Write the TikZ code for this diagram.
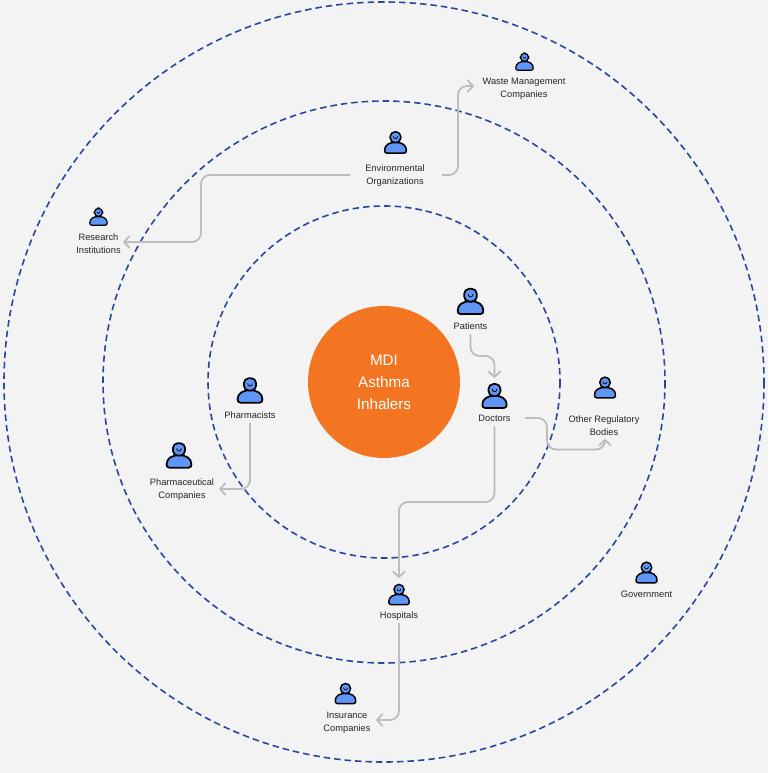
\documentclass[tikz,border=0pt]{standalone}
\usepackage{fontspec}
\setmainfont{Liberation Sans}
\usetikzlibrary{arrows.meta,calc}
\definecolor{bgc}{HTML}{F3F3F3}
\definecolor{ringc}{HTML}{2A479F}
\definecolor{orangec}{HTML}{F47521}
\definecolor{iconc}{HTML}{5F96F6}
\definecolor{linkc}{HTML}{BDBDBD}
\definecolor{textc}{HTML}{262626}
\newcommand{\plw}{1.9}
\newcommand{\placeperson}[3]{%
  \pgfmathsetmacro{\plw}{max(1.2,1.8*#1)}%
  \pic[scale=#1] at (#2,#3) {person};}
\tikzset{
  ring/.style={draw=ringc,line width=1.6pt,dash pattern=on 6.5pt off 4pt},
  lab/.style={font=\fontsize{9.3}{13}\selectfont,text=textc,align=center,inner sep=0pt},
  link/.style={draw=linkc,line width=1.8pt,rounded corners=9pt,-{Straight Barb[length=5.5pt,width=11.5pt,line width=1.8pt,round]}},
  hub/.style={circle,fill=orangec,minimum size=152pt,inner sep=0pt,text=white,align=center,font=\fontsize{15.2}{22}\selectfont},
  person/.pic={
    \begin{scope}[line width=\plw pt,draw=black,fill=iconc,line join=round]
      \filldraw (-10,12) -- (10,12) .. controls (12.2,12) and (12.8,10.5) .. (12.8,8.5) .. controls (12.8,2.5) and (7.5,-0.8) .. (0,-0.8) .. controls (-7.5,-0.8) and (-12.8,2.5) .. (-12.8,8.5) .. controls (-12.8,10.5) and (-12.2,12) .. (-10,12) -- cycle;
      \filldraw[rounded corners=5] (-6.3,-13.2) rectangle (6.3,-0.4);
      \draw[line width=0.45*\plw pt,line cap=round] (-2.4,-7.6) .. controls (-2.3,-4.2) and (2.3,-4.2) .. (2.4,-7.6);
    \end{scope}
  }
}
\begin{document}
\begin{tikzpicture}[x=1pt,y=-1pt]
\useasboundingbox[fill=bgc] (0,0) rectangle (768,773);
\coordinate (ctr) at (384,382);
\draw[ring] (ctr) circle (380);
\draw[ring] (ctr) circle (281);
\draw[ring] (ctr) circle (176);
\node[hub] (hubn) at (ctr) {MDI\\Asthma\\Inhalers};

\placeperson{1}{470.5}{302}
\placeperson{.95}{494.5}{396.5}
\placeperson{.82}{605}{388}
\placeperson{.85}{395.5}{143}
\placeperson{.68}{524.5}{62}
\placeperson{.68}{98.5}{217}
\placeperson{.97}{250}{391}
\placeperson{.97}{179}{456}
\placeperson{.8}{399}{595}
\placeperson{.82}{646.5}{573}
\placeperson{.8}{345.5}{694}

\node[lab] (patients) at (470.5,326.5) {Patients};
\node[lab] (doctors) at (494.5,418.5) {Doctors};
\node[lab] (regul) at (604,426) {Other Regulatory\\Bodies};
\node[lab] (env) at (395,176) {Environmental\\Organizations};
\node[lab] (waste) at (524,88.5) {Waste Management\\Companies};
\node[lab] (research) at (98.5,244) {Research\\Institutions};
\node[lab] (pharmacists) at (250,415.5) {Pharmacists};
\node[lab] (pharma) at (182,490) {Pharmaceutical\\Companies};
\node[lab] (hospitals) at (399,616.5) {Hospitals};
\node[lab] (gov) at (646.5,594.5) {Government};
\node[lab] (insurance) at (347,723) {Insurance\\Companies};

\coordinate (patS) at (470.5,334);
\coordinate (docN) at (494.5,378);
\coordinate (docE) at (525,418);
\coordinate (regS) at (605,439);
\coordinate (docS) at (494.5,426);
\coordinate (hosN) at (399,578);
\coordinate (hosS) at (399,623);
\coordinate (insE) at (376,720);
\coordinate (phaS) at (250,423);
\coordinate (phmE) at (219,489);
\coordinate (envW) at (350,175);
\coordinate (resE) at (123,242);
\coordinate (envE) at (442,175);
\coordinate (wasW) at (474,86);

\draw[link] (patS) -- (470.5,356) -- (494.5,356) -- (docN);
\draw[link] (docE) -- (547,418) -- (547,449.5) -- (605,449.5) -- (regS);
\draw[link] (docS) -- (494.5,502) -- (399,502) -- (hosN);
\draw[link] (hosS) -- (399,720) -- (insE);
\draw[link] (phaS) -- (250,489) -- (phmE);
\draw[link] (envW) -- (201,175) -- (201,242) -- (resE);
\draw[link] (envE) -- (458,175) -- (458,86) -- (wasW);
\end{tikzpicture}
\end{document}
